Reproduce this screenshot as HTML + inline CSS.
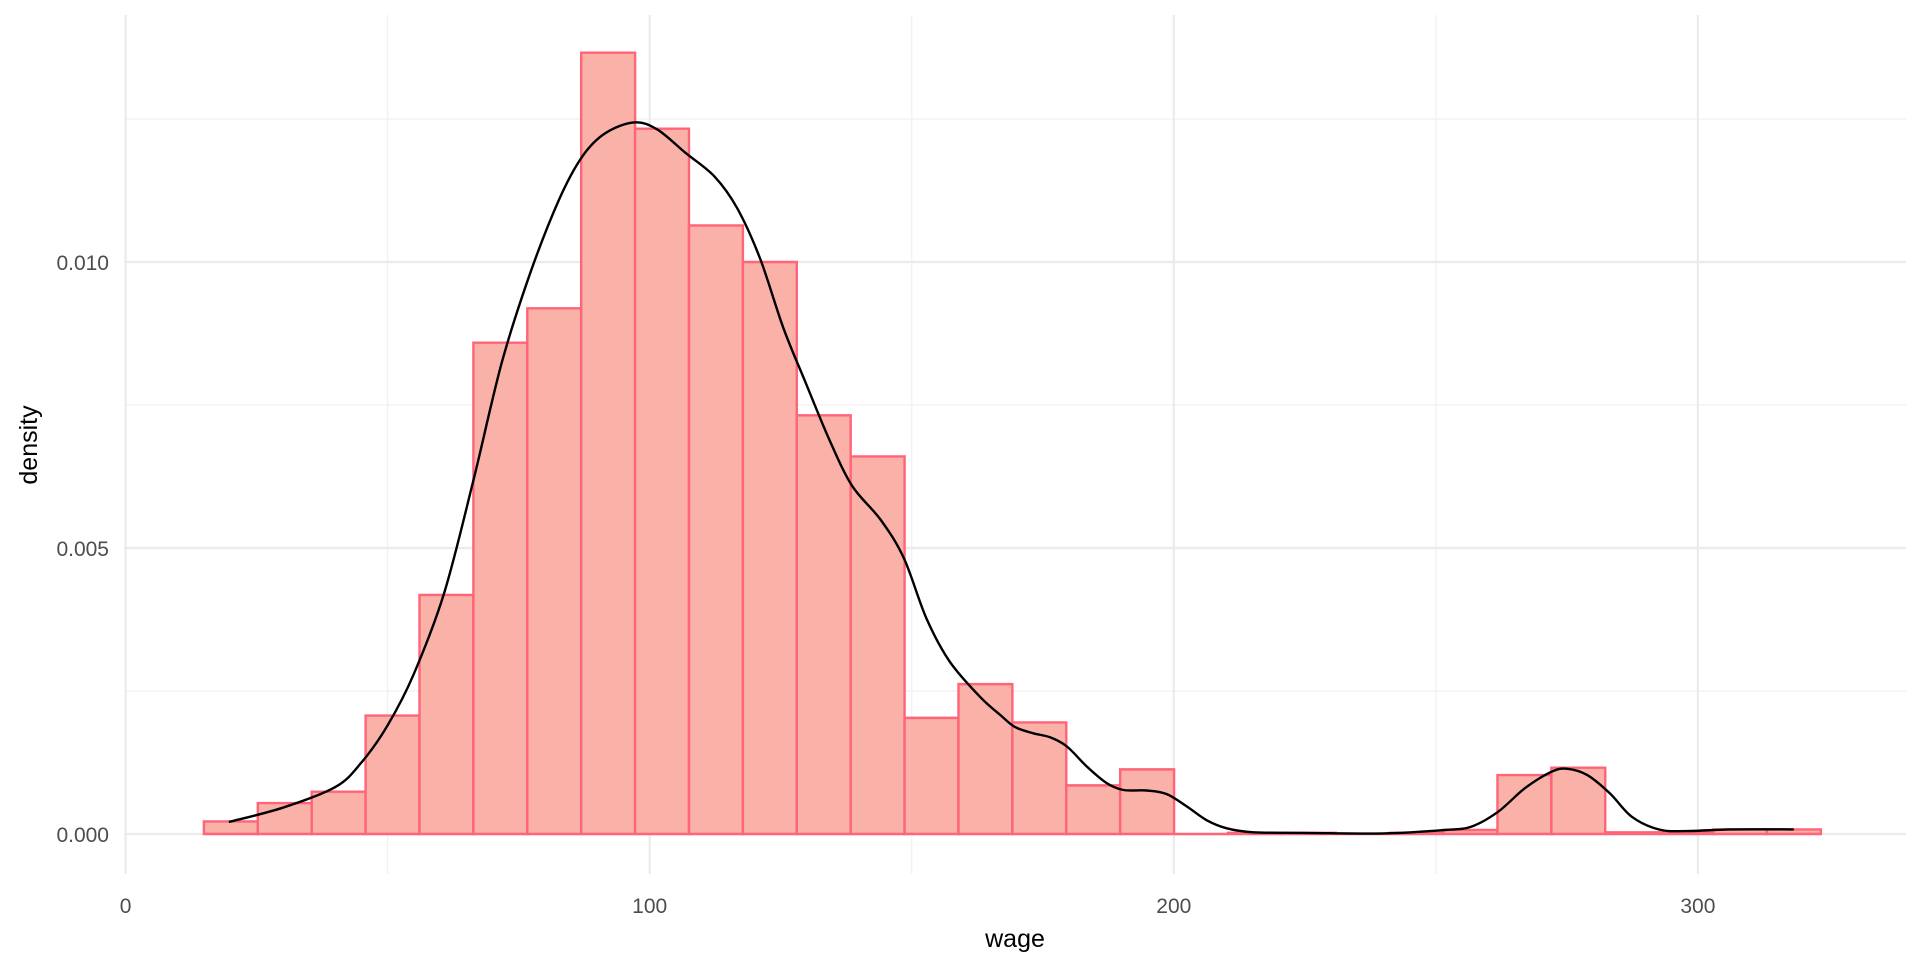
<!DOCTYPE html>
<html><head><meta charset="utf-8">
<style>
html,body{margin:0;padding:0;background:#fff;}
svg{display:block;font-family:"Liberation Sans",Arial,sans-serif;}
</style></head>
<body>
<svg id="chart" width="1920" height="960"></svg>
<script>
const binStart = 14.94;
const binWidth = 10.284;
const binDensities = [0.00022,0.00054,0.00074,0.00207,0.00418,0.00859,0.00919,0.01366,0.01233,0.01064,0.01000,0.00732,0.00660,0.00203,0.00262,0.00195,0.00085,0.00113,0,0.00002,0.00002,0,0.00002,0.00007,0.00103,0.00116,0.00003,0.00003,0.00008,0.00008];
const curveX = [19.7,30,40,45,50,55,60.8,66.3,71.8,77.3,82.7,87.1,91.5,97.0,101.4,106.8,112.3,116.7,121.1,125.5,129.8,134.2,138.6,144.1,148.5,152.8,157.2,163.0,166.9,169.7,173.2,176.4,179.6,183.4,187.2,190.4,194.8,198.6,202.5,206.3,210.1,215.2,225,240,251.7,256.8,261.9,267.0,272.1,275.1,278.9,283.2,287.4,292.5,297.6,306.2,318.3];
const curveY = [0.00021,0.00046,0.00082,0.00125,0.0019,0.0028,0.00422,0.00616,0.00825,0.00983,0.01109,0.01184,0.01225,0.01244,0.01232,0.01191,0.01150,0.01094,0.01005,0.00885,0.00788,0.00691,0.00609,0.00549,0.00482,0.00377,0.00302,0.0024,0.00208,0.00187,0.00176,0.00169,0.00153,0.00118,0.00089,0.00077,0.00076,0.0007,0.00048,0.00024,0.0001,0.00003,0.00002,0.00001,0.00007,0.00013,0.00039,0.0008,0.00109,0.00114,0.00103,0.00071,0.0003,0.00008,0.00005,0.00008,0.00008];
const xTicks = [0,100,200,300];
const xMinor = [50,150,250];
const yTicks = [0,0.005,0.010];
const yTickLabels = ["0.000","0.005","0.010"];
const yMinor = [0.0025,0.0075,0.0125];

const NS="http://www.w3.org/2000/svg";
const svg=document.getElementById('chart');
const PL=124, PR=1906, PT=15, PB=874;
function sx(v){return 125.6+v*5.241;}
function sy(v){return 834-v*57200;}
function mk(tag,attrs,parent){const e=document.createElementNS(NS,tag);for(const k in attrs)e.setAttribute(k,attrs[k]);(parent||svg).appendChild(e);return e;}

const grid=mk('g',{});


yMinor.forEach(v=>{mk('line',{x1:PL,x2:PR,y1:sy(v),y2:sy(v),stroke:'#f0f0f0','stroke-width':1.2},grid);});
xMinor.forEach(v=>{mk('line',{x1:sx(v),x2:sx(v),y1:PT,y2:PB,stroke:'#f0f0f0','stroke-width':1.2},grid);});
yTicks.forEach(v=>{mk('line',{x1:PL,x2:PR,y1:sy(v),y2:sy(v),stroke:'#ebebeb','stroke-width':2.2},grid);});
xTicks.forEach(v=>{mk('line',{x1:sx(v),x2:sx(v),y1:PT,y2:PB,stroke:'#ebebeb','stroke-width':2.2},grid);});

const bars=mk('g',{});


binDensities.forEach((d,i)=>{
  const x0=sx(binStart+i*binWidth), x1=sx(binStart+(i+1)*binWidth);
  const y0=sy(0), y1=sy(d);
  const p=mk('path',{d:`M${x0},${y0}L${x0},${y1}L${x1},${y1}L${x1},${y0}Z`,fill:'#f9b1a8',stroke:'#ff6479','stroke-width':2.4},bars);
  
  
});

const pts=curveX.map((x,i)=>[sx(x),sy(curveY[i])]);
let dstr='M'+pts[0][0].toFixed(1)+','+pts[0][1].toFixed(1);
for(let i=0;i<pts.length-1;i++){
  const p0=pts[Math.max(0,i-1)],p1=pts[i],p2=pts[i+1],p3=pts[Math.min(pts.length-1,i+2)];
  const c1=[p1[0]+(p2[0]-p0[0])/6,p1[1]+(p2[1]-p0[1])/6];
  const c2=[p2[0]-(p3[0]-p1[0])/6,p2[1]-(p3[1]-p1[1])/6];
  dstr+=`C${c1[0].toFixed(1)},${c1[1].toFixed(1)} ${c2[0].toFixed(1)},${c2[1].toFixed(1)} ${p2[0].toFixed(1)},${p2[1].toFixed(1)}`;
}
const curve=mk('path',{d:dstr,fill:'none',stroke:'#000','stroke-width':2.4,'stroke-linejoin':'round'});



xTicks.forEach(v=>{
  const t=mk('text',{x:sx(v),y:913,'text-anchor':'middle','font-size':21,fill:'#4d4d4d'});
  t.textContent=String(v);
  
  
});
yTicks.forEach((v,i)=>{
  const t=mk('text',{x:109,y:sy(v)+8,'text-anchor':'end','font-size':21,fill:'#4d4d4d'});
  t.textContent=yTickLabels[i];
  
  
});
const xt=mk('text',{x:1015,y:947,'text-anchor':'middle','font-size':25,fill:'#000'});
xt.textContent='wage';


const yt=mk('text',{x:0,y:0,'text-anchor':'middle','font-size':25,fill:'#000',transform:'translate(37,445) rotate(-90)'});
yt.textContent='density';


</script>
</body></html>
